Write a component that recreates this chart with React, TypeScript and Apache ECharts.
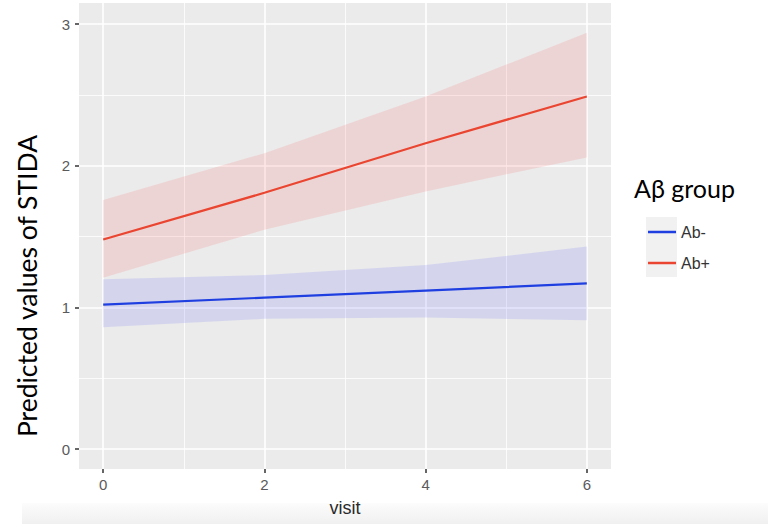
import React, { useEffect, useRef } from "react";
import * as echarts from "echarts";

// Data
const visits = [0, 2, 4, 6];
const abNegFit = [1.02, 1.07, 1.12, 1.17];
const abNegLower = [0.86, 0.92, 0.93, 0.91];
const abNegUpper = [1.2, 1.23, 1.3, 1.43];
const abPosFit = [1.48, 1.81, 2.16, 2.49];
const abPosLower = [1.21, 1.55, 1.82, 2.06];
const abPosUpper = [1.76, 2.09, 2.49, 2.94];
const xTicks = [0, 2, 4, 6];
const yTicks = [0, 1, 2, 3];
const groupNames = ["Ab-", "Ab+"];

const pairs = (ys: number[]) => visits.map((x, i) => [x, ys[i]]);
const triples = (lo: number[], hi: number[]) => visits.map((x, i) => [x, lo[i], hi[i]]);

const TICK_FONT = "'Liberation Sans', Arial, sans-serif";
const TITLE_FONT = "Lato, 'Open Sans', sans-serif";

function bandSeries(name: string, lo: number[], hi: number[], color: string) {
  return {
    name,
    type: "custom",
    silent: true,
    z: 1,
    data: triples(lo, hi),
    encode: { x: 0, y: [1, 2] },
    renderItem: (params: any, api: any) => {
      if (params.dataIndex !== 0) return null;
      const upperPts = visits.map((x, i) => api.coord([x, hi[i]]));
      const lowerPts = visits.map((x, i) => api.coord([x, lo[i]])).reverse();
      return {
        type: "polygon",
        shape: { points: upperPts.concat(lowerPts) },
        style: { fill: color, stroke: "none" },
      };
    },
  };
}

export default function App() {
  const ref = useRef<HTMLDivElement>(null);
  useEffect(() => {
    if (!ref.current) return;
    const chart = echarts.init(ref.current, undefined, { renderer: "svg" });
    const axisCommon = {
      axisLine: { show: false, onZero: false },
      splitLine: { show: true, lineStyle: { color: "#ffffff", width: 1.6 } },
      minorTick: { show: false, splitNumber: 2 },
      minorSplitLine: { show: true, lineStyle: { color: "#ffffff", width: 0.8 } },
    };
    chart.setOption({
      animation: false,
      backgroundColor: "#ffffff",
      grid: {
        show: true,
        backgroundColor: "#ebebeb",
        borderWidth: 0,
        left: 79,
        right: 157,
        top: 3,
        bottom: 58,
      },
      xAxis: {
        type: "value",
        min: -0.3,
        max: 6.3,
        splitNumber: 3,
        minInterval: 2,
        maxInterval: 2,
        ...axisCommon,
        axisTick: {
          show: true,
          length: 4,
          customValues: xTicks,
          lineStyle: { color: "#333333", width: 1.5 },
        },
        axisLabel: {
          customValues: xTicks,
          fontSize: 15,
          color: "#5a5a5a",
          fontFamily: TICK_FONT,
          margin: 8,
        },
        name: "visit",
        nameLocation: "middle",
        nameGap: 30,
        nameTextStyle: { fontSize: 18, color: "#2a2a2a", fontFamily: TICK_FONT },
      },
      yAxis: {
        type: "value",
        min: -0.14,
        max: 3.15,
        splitNumber: 3,
        minInterval: 1,
        maxInterval: 1,
        ...axisCommon,
        axisTick: {
          show: true,
          length: 4,
          customValues: yTicks,
          lineStyle: { color: "#333333", width: 1.5 },
        },
        axisLabel: {
          customValues: yTicks,
          fontSize: 15,
          color: "#5a5a5a",
          fontFamily: TICK_FONT,
          margin: 9,
        },
      },
      legend: {
        data: groupNames,
        orient: "vertical",
        left: 648,
        top: 223,
        padding: 0,
        itemWidth: 28,
        itemHeight: 2.5,
        itemGap: 13,
        icon: "rect",
        textStyle: {
          fontSize: 16,
          lineHeight: 18,
          color: "#333333",
          fontFamily: TICK_FONT,
        },
      },
      graphic: [
        {
          type: "rect",
          z: -1,
          shape: { x: 22, y: 503, width: 746, height: 21 },
          style: {
            fill: new echarts.graphic.LinearGradient(0, 0, 0, 1, [
              { offset: 0, color: "#fcfcfc" },
              { offset: 1, color: "#f0f0f0" },
            ]),
          },
        },
        {
          type: "rect",
          z: -1,
          shape: { x: 646, y: 217, width: 31, height: 60 },
          style: { fill: "#f1f1f1" },
        },
        {
          type: "text",
          x: 634,
          y: 188,
          style: {
            text: "Aβ group",
            fontSize: 25,
            fontFamily: TITLE_FONT,
            fill: "#000000",
            textAlign: "left",
            textVerticalAlign: "middle",
            verticalAlign: "middle",
          },
        },
        {
          type: "text",
          x: 27,
          y: 286,
          rotation: Math.PI / 2,
          style: {
            text: "Predicted values of STIDA",
            fontSize: 26.5,
            fontFamily: TITLE_FONT,
            fill: "#000000",
            textAlign: "center",
            textVerticalAlign: "middle",
            verticalAlign: "middle",
          },
        },
      ],
      series: [
        bandSeries("negBand", abNegLower, abNegUpper, "rgba(60,70,255,0.13)"),
        bandSeries("posBand", abPosLower, abPosUpper, "rgba(255,60,60,0.13)"),
        {
          name: groupNames[0],
          type: "line",
          data: pairs(abNegFit),
          symbol: "none",
          color: "#1f3fe0",
          lineStyle: { width: 2.2, color: "#1f3fe0" },
          z: 3,
        },
        {
          name: groupNames[1],
          type: "line",
          data: pairs(abPosFit),
          symbol: "none",
          color: "#ea4530",
          lineStyle: { width: 2.2, color: "#ea4530" },
          z: 3,
        },
      ],
    });
    return () => chart.dispose();
  }, []);
  return (
    <div
      ref={ref}
      style={{ position: "absolute", left: 0, top: 0, width: 768, height: 527 }}
    />
  );
}
